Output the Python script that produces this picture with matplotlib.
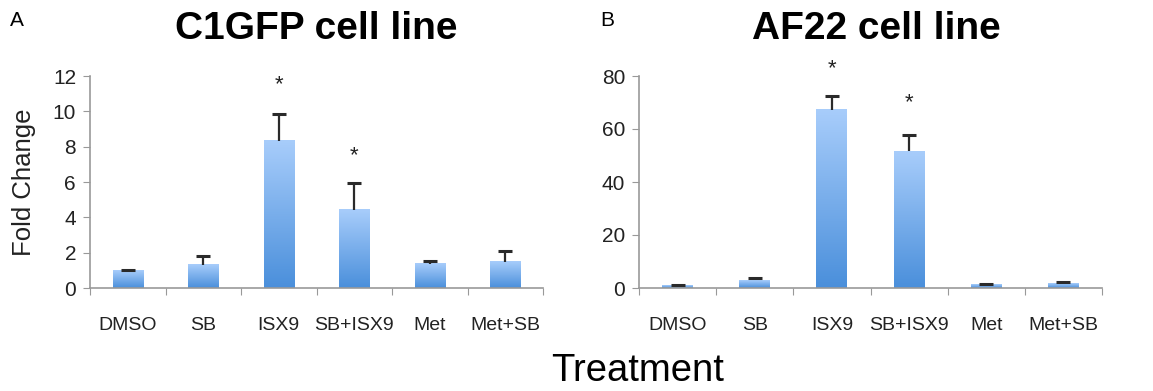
import numpy as np
import matplotlib
matplotlib.use("Agg")
import matplotlib.pyplot as plt
from matplotlib.colors import LinearSegmentedColormap

plt.rcParams['font.family'] = ['Liberation Sans', 'DejaVu Sans']

categories = ["DMSO", "SB", "ISX9", "SB+ISX9", "Met", "Met+SB"]

c1gfp_values = [0.98, 1.33, 8.33, 4.42, 1.36, 1.50]
c1gfp_err_top = [1.02, 1.83, 9.85, 5.92, 1.55, 2.09]
c1gfp_star_idx = [2, 3]
c1gfp_star_y = [11.5, 7.5]

af22_values = [0.9, 2.9, 67.2, 51.6, 1.3, 1.8]
af22_err_top = [1.0, 3.8, 72.5, 57.9, 1.6, 2.1]
af22_star_idx = [2, 3]
af22_star_y = [82.8, 69.8]

W, H = 1153, 391
fig = plt.figure(figsize=(W / 100, H / 100), dpi=100)

cmap = LinearSegmentedColormap.from_list("bar", ["#4a8fdb", "#a8cdfb"])
grad = np.linspace(0, 1, 256).reshape(-1, 1)


def panel(rect, values, err_top, star_idx, star_y, ymax, yticks, letter, letter_x):
    ax = fig.add_axes(rect)
    x = np.arange(len(categories)) + 0.5
    width = 0.4
    bars = ax.bar(x, values, width=width, color="none", edgecolor="none", zorder=2)
    for b in bars:
        x0 = b.get_x()
        h = b.get_height()
        ax.imshow(grad, cmap=cmap, origin="lower", aspect="auto",
                  extent=[x0, x0 + width, 0, h], zorder=2)
    errs = np.array(err_top) - np.array(values)
    eb = ax.errorbar(x, values, yerr=[np.zeros_like(errs), errs], fmt="none",
                     ecolor="#2a2a2a", elinewidth=1.6, capsize=5, capthick=2.2, zorder=3)
    caplines = eb[1]
    if len(caplines) == 2:
        caplines[0].set_visible(False)
    for i, sy in zip(star_idx, star_y):
        ax.text(x[i], sy, "*", ha="center", va="center", fontsize=16,
                color="#222222", clip_on=False)
    ax.set_xlim(0, len(categories))
    ax.set_ylim(0, ymax)
    ax.set_yticks(yticks)
    ax.set_xticks(np.arange(len(categories) + 1))
    ax.set_xticklabels([])
    ax.set_xticks(x, minor=True)
    ax.set_xticklabels(categories, minor=True, fontsize=14, color="#222222")
    ax.tick_params(axis="x", which="minor", length=0, pad=21)
    ax.tick_params(axis="x", which="major", length=5, color="#999999", direction="out")
    ax.tick_params(axis="y", length=5, color="#999999", labelsize=15,
                   labelcolor="#222222", pad=5)
    for s in ["top", "right"]:
        ax.spines[s].set_visible(False)
    for s in ["left", "bottom"]:
        ax.spines[s].set_color("#999999")
        ax.spines[s].set_linewidth(1.2)
    fig.text(letter_x, 1 - 20 / H, letter, fontsize=15, ha="left", va="center")
    return ax


ax1 = panel([90 / W, 1 - 288 / H, 453 / W, 212 / H], c1gfp_values, c1gfp_err_top,
            c1gfp_star_idx, c1gfp_star_y, 12, np.arange(0, 13, 2), "A", 10 / W)
ax1.set_ylabel("Fold Change", fontsize=18.5, labelpad=12, color="#222222")
fig.text(316 / W, 1 - 29 / H, "C1GFP cell line", fontsize=28, fontweight="bold",
         ha="center", va="center")

ax2 = panel([639 / W, 1 - 288 / H, 463 / W, 212 / H], af22_values, af22_err_top,
            af22_star_idx, af22_star_y, 80, np.arange(0, 81, 20), "B", 600 / W)
fig.text(876 / W, 1 - 29 / H, "AF22 cell line", fontsize=28, fontweight="bold",
         ha="center", va="center")

fig.text(638 / W, 1 - 371 / H, "Treatment", fontsize=27.5, ha="center", va="center")

fig.savefig("out.png", dpi=100)
